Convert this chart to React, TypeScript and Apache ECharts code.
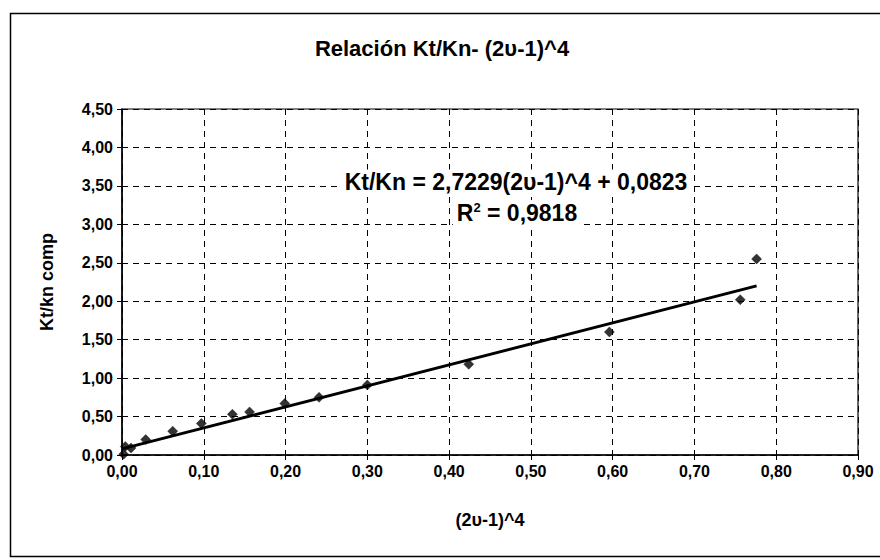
import React, { useEffect, useRef } from "react";
import * as echarts from "echarts";

const pointsX = [0.002, 0.004, 0.011, 0.029, 0.062, 0.097, 0.135, 0.156, 0.199, 0.241, 0.300, 0.424, 0.596, 0.756, 0.776];
const pointsY = [0.01, 0.11, 0.09, 0.20, 0.31, 0.41, 0.53, 0.56, 0.67, 0.75, 0.91, 1.18, 1.60, 2.02, 2.55];
const trendX = [0, 0.776];
const trendY = [0.08, 2.20];

const titleText = "Relación Kt/Kn- (2υ-1)^4";
const xName = "(2υ-1)^4";
const yName = "Kt/kn comp";
const eqLine = "Kt/Kn = 2,7229(2υ-1)^4 + 0,0823";
const r2Value = "0,9818";

const FONT = "'Liberation Sans', Arial, sans-serif";

export default function App() {
  const ref = useRef<HTMLDivElement>(null);
  useEffect(() => {
    if (!ref.current) return;
    const chart = echarts.init(ref.current, null, { renderer: "svg" });
    const fmt = (v: number) => v.toFixed(2).replace(".", ",");
    const dash = { color: "#000", width: 1, type: [6, 5] as number[] };
    chart.setOption({
      animation: false,
      backgroundColor: "#fff",
      textStyle: { fontFamily: FONT },
      title: {
        text: titleText,
        left: 437,
        textAlign: "center",
        top: 32,
        textStyle: { fontFamily: FONT, fontSize: 22, fontWeight: "bold", color: "#000" },
      },
      grid: {
        left: 122,
        right: 22,
        top: 109,
        bottom: 105,
        show: true,
        borderColor: "#000",
        borderWidth: 1.2,
        backgroundColor: "transparent",
      },
      xAxis: {
        type: "value",
        min: 0,
        max: 0.9,
        interval: 0.1,
        name: xName,
        nameLocation: "middle",
        nameGap: 56,
        nameTextStyle: { fontFamily: FONT, fontSize: 18, fontWeight: "bold", color: "#000" },
        axisLine: { show: true, onZero: false, lineStyle: { color: "#000", width: 1.5 } },
        axisTick: { show: true, length: 5, inside: false, lineStyle: { color: "#000" } },
        axisLabel: { formatter: fmt, fontFamily: FONT, fontSize: 16, fontWeight: "bold", color: "#000", margin: 8 },
        splitLine: { show: true, lineStyle: dash },
      },
      yAxis: {
        type: "value",
        min: 0,
        max: 4.5,
        interval: 0.5,
        name: yName,
        nameLocation: "middle",
        nameGap: 66,
        nameRotate: 90,
        nameTextStyle: { fontFamily: FONT, fontSize: 18, fontWeight: "bold", color: "#000" },
        axisLine: { show: true, onZero: false, lineStyle: { color: "#000", width: 1.5 } },
        axisTick: { show: true, length: 5, inside: false, lineStyle: { color: "#000" } },
        axisLabel: { formatter: fmt, fontFamily: FONT, fontSize: 16, fontWeight: "bold", color: "#000", margin: 9 },
        splitLine: { show: true, lineStyle: dash },
      },
      series: [
        {
          type: "line",
          data: trendX.map((x, i) => [x, trendY[i]]),
          showSymbol: false,
          symbol: "none",
          lineStyle: { color: "#000", width: 3 },
          z: 3,
        },
        {
          type: "scatter",
          data: pointsX.map((x, i) => [x, pointsY[i]]),
          symbol: "diamond",
          symbolSize: 10,
          itemStyle: { color: "#000", borderColor: "#000", borderWidth: 0.5 },
          z: 4,
        },
      ],
      graphic: [
        {
          type: "rect",
          left: 8,
          top: 11,
          shape: { width: 885, height: 543 },
          style: { fill: "none", stroke: "#000", lineWidth: 1.5 },
          silent: true,
        },
        {
          type: "text",
          x: 516,
          y: 182,
          style: {
            text: eqLine,
            fill: "#000",
            font: `bold 23px ${FONT}`,
            align: "center",
            verticalAlign: "middle",
            backgroundColor: "#fff",
            padding: [1, 4],
          },
          z: 10,
        },
        {
          type: "text",
          x: 517,
          y: 213,
          style: {
            text: "{n|R}{s|2}{n| = " + r2Value + "}",
            align: "center",
            verticalAlign: "middle",
            backgroundColor: "#fff",
            padding: [1, 4],
            rich: {
              n: { fontFamily: FONT, fontSize: 23, fontWeight: "bold", color: "#000" },
              s: { fontFamily: FONT, fontSize: 13, fontWeight: "bold", color: "#000", verticalAlign: "top", padding: [0, 0, 11, 0] },
            },
          },
          z: 10,
        },
      ],
    });
    return () => chart.dispose();
  }, []);
  return <div ref={ref} style={{ position: "absolute", left: 0, top: 0, width: 880, height: 560 }} />;
}
